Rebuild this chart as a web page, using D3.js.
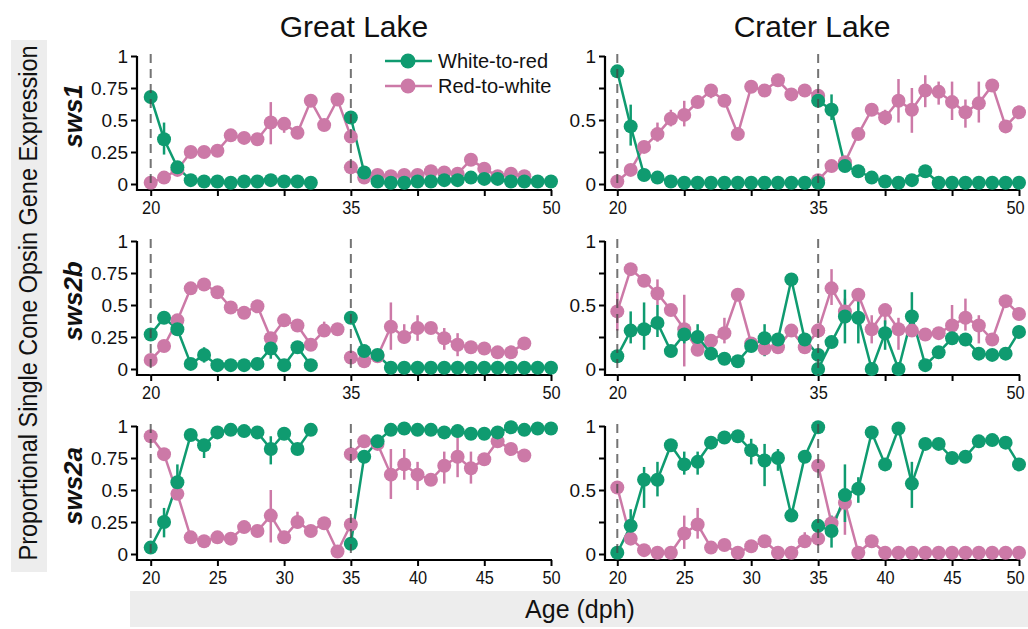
<!DOCTYPE html>
<html>
<head>
<meta charset="utf-8">
<script src="https://cdn.jsdelivr.net/npm/d3@7"></script>
<style>
body { margin: 0; background: #fff; }
text { font-family: "Liberation Sans", Arial, Helvetica, sans-serif; }
</style>
</head>
<body>
<svg id="chart" width="1028" height="629"></svg>
<script>
// days of the two transfer experiments (20->35 and 35->50)
var DAYS_A = [20,21,22,23,24,25,26,27,28,29,30,31,32,33,34,35];
var DAYS_B = [35,36,37,38,39,40,41,42,43,44,45,46,47,48,49,50];

var LAKES = ["Great Lake", "Crater Lake"];
var GENES = ["sws1", "sws2b", "sws2a"];
var SERIES = ["White-to-red", "Red-to-white"];
var X_TICKS = [20,25,30,35,40,45,50];
var Y_TICKS = [0,0.25,0.5,0.75,1];

// Great Lake, sws1
var GL_SWS1_W2R_A = [0.68,0.35,0.13,0.03,0.02,0.02,0.01,0.02,0.02,0.03,0.02,0.02,0.01,null,null,null];
var GL_SWS1_W2R_B = [0.52,0.09,0.02,0.01,0.01,0.02,0.02,0.03,0.03,0.05,0.04,0.04,0.02,0.02,0.02,0.02];
var GL_SWS1_R2W_A = [0.01,0.05,0.11,0.25,0.25,0.26,0.38,0.36,0.35,0.48,0.47,0.40,0.65,0.46,0.66,0.37];
var GL_SWS1_R2W_B = [0.13,0.05,0.07,0.06,0.07,0.07,0.10,0.09,0.08,0.19,0.12,0.06,0.08,0.06,null,null];
var GL_SWS1_W2R_ERR = [[21,0.23,0.48]];
var GL_SWS1_R2W_ERR = [[26,0.33,0.43],[29,0.31,0.64],[30,0.40,0.52]];

// Crater Lake, sws1
var CL_SWS1_W2R_A = [0.88,0.45,0.07,0.05,0.02,0.01,0.01,0.01,0.01,0.01,0.01,0.01,0.01,0.01,0.01,0.01];
var CL_SWS1_W2R_B = [0.65,0.58,0.14,0.10,0.05,0.02,0.01,0.03,0.10,0.01,0.01,0.01,0.01,0.01,0.01,0.01];
var CL_SWS1_R2W_A = [0.02,0.11,0.29,0.39,0.51,0.54,0.64,0.73,0.65,0.39,0.76,0.73,0.81,0.70,0.73,0.69];
var CL_SWS1_R2W_B = [0.03,0.14,0.17,0.39,0.58,0.52,0.65,0.58,0.73,0.72,0.64,0.56,0.63,0.77,0.45,0.56];
var CL_SWS1_W2R_ERR = [[21,0.30,0.62],[36,0.50,0.70]];
var CL_SWS1_R2W_ERR = [[23,0.33,0.48],[24,0.45,0.58],[25,0.45,0.65],[27,0.67,0.78],[40,0.46,0.58],
  [41,0.48,0.82],[42,0.40,0.75],[43,0.60,0.85],[44,0.62,0.80],[45,0.50,0.80],[46,0.44,0.66],[47,0.48,0.80]];

// Great Lake, sws2b
var GL_SWS2B_W2R_A = [0.27,0.40,0.31,0.04,0.11,0.03,0.03,0.03,0.04,0.16,0.03,0.17,0.03,null,null,null];
var GL_SWS2B_W2R_B = [0.40,0.14,0.11,0.01,0.01,0.01,0.01,0.01,0.01,0.01,0.01,0.01,0.01,0.01,0.01,0.01];
var GL_SWS2B_R2W_A = [0.07,0.18,0.38,0.63,0.66,0.60,0.48,0.44,0.49,0.24,0.38,0.34,0.19,0.30,0.31,null];
var GL_SWS2B_R2W_B = [0.09,0.06,0.10,0.33,0.25,0.32,0.32,0.24,0.19,0.17,0.16,0.13,0.13,0.20,null,null];
var GL_SWS2B_W2R_ERR = [[24,0.05,0.17],[29,0.08,0.22]];
var GL_SWS2B_R2W_ERR = [[38,0.15,0.52],[39,0.20,0.35],[40,0.22,0.42],[42,0.15,0.32],[43,0.10,0.28],[33,0.25,0.37]];

// Crater Lake, sws2b
var CL_SWS2B_W2R_A = [0.10,0.30,0.31,0.36,0.14,0.27,0.25,0.12,0.08,0.06,0.18,0.24,0.23,0.70,0.23,0.11];
var CL_SWS2B_W2R_B = [0.00,0.21,0.41,0.40,0.00,0.28,0.00,0.41,0.03,0.13,0.24,0.23,0.12,0.11,0.12,0.29];
var CL_SWS2B_R2W_A = [0.45,0.78,0.69,0.59,0.46,0.31,0.15,0.22,0.28,0.58,0.20,0.16,0.17,0.30,0.17,0.30];
var CL_SWS2B_R2W_B = [0.30,0.63,0.45,0.58,0.31,0.46,0.31,0.30,0.27,0.28,0.34,0.40,0.34,0.23,0.53,0.43];
var CL_SWS2B_W2R_ERR = [[21,0.20,0.45],[22,0.15,0.52],[23,0.25,0.50],[25,0.20,0.35],[26,0.18,0.35],[31,0.10,0.35],
  [37,0.20,0.62],[38,0.20,0.55],[40,0.15,0.38],[42,0.25,0.60]];
var CL_SWS2B_R2W_ERR = [[20,0.30,0.60],[23,0.50,0.70],[25,0.02,0.58],[28,0.20,0.40],[36,0.50,0.78],[37,0.35,0.55],
  [39,0.20,0.42],[40,0.35,0.50],[41,0.15,0.40],[45,0.20,0.50],[46,0.30,0.55],[47,0.20,0.42]];

// Great Lake, sws2a
var GL_SWS2A_W2R_A = [0.05,0.25,0.56,0.93,0.85,0.95,0.97,0.96,0.95,0.82,0.94,0.82,0.97,null,null,null];
var GL_SWS2A_W2R_B = [0.08,0.76,0.88,0.97,0.98,0.97,0.97,0.95,0.96,0.94,0.94,0.95,0.99,0.97,0.98,0.98];
var GL_SWS2A_R2W_A = [0.92,0.78,0.47,0.13,0.10,0.13,0.12,0.21,0.18,0.30,0.13,0.25,0.18,0.24,0.02,0.23];
var GL_SWS2A_R2W_B = [0.78,0.88,0.86,0.62,0.70,0.62,0.58,0.69,0.76,0.67,0.74,0.88,0.82,0.77,null,null];
var GL_SWS2A_W2R_ERR = [[21,0.13,0.36],[22,0.44,0.70],[24,0.75,0.90],[29,0.70,0.92]];
var GL_SWS2A_R2W_ERR = [[29,0.09,0.50],[31,0.20,0.33],[38,0.43,0.82],[39,0.58,0.82],[40,0.50,0.72],
  [42,0.55,0.80],[43,0.60,1.00],[44,0.55,0.80]];

// Crater Lake, sws2a
var CL_SWS2A_W2R_A = [0.01,0.22,0.58,0.58,0.85,0.70,0.72,0.87,0.91,0.92,0.81,0.73,0.75,0.30,0.76,0.99];
var CL_SWS2A_W2R_B = [0.22,0.18,0.46,0.51,0.95,0.70,0.98,0.55,0.86,0.86,0.75,0.76,0.88,0.89,0.87,0.70];
var CL_SWS2A_R2W_A = [0.52,0.12,0.03,0.01,0.01,0.16,0.23,0.05,0.07,0.01,0.06,0.10,0.01,0.01,0.10,0.12];
var CL_SWS2A_R2W_B = [0.69,0.24,0.40,0.01,0.10,0.01,0.01,0.01,0.01,0.01,0.01,0.01,0.01,0.01,0.01,0.01];
var CL_SWS2A_W2R_ERR = [[21,0.15,0.35],[22,0.36,0.68],[23,0.45,0.72],[25,0.62,0.80],[26,0.62,0.80],[30,0.70,0.90],
  [31,0.53,0.86],[32,0.65,0.82],[36,0.05,0.30],[37,0.25,0.70],[38,0.40,0.60],[42,0.36,0.72]];
var CL_SWS2A_R2W_ERR = [[25,0.04,0.30],[26,0.12,0.36],[34,0.05,0.17],[37,0.15,0.45]];

var GREEN = "#0f9b70";
var PINK = "#cc79a7";

var panels = [
  {row:0, col:0, w2r:[GL_SWS1_W2R_A, GL_SWS1_W2R_B], r2w:[GL_SWS1_R2W_A, GL_SWS1_R2W_B], w2rErr:GL_SWS1_W2R_ERR, r2wErr:GL_SWS1_R2W_ERR},
  {row:0, col:1, w2r:[CL_SWS1_W2R_A, CL_SWS1_W2R_B], r2w:[CL_SWS1_R2W_A, CL_SWS1_R2W_B], w2rErr:CL_SWS1_W2R_ERR, r2wErr:CL_SWS1_R2W_ERR},
  {row:1, col:0, w2r:[GL_SWS2B_W2R_A, GL_SWS2B_W2R_B], r2w:[GL_SWS2B_R2W_A, GL_SWS2B_R2W_B], w2rErr:GL_SWS2B_W2R_ERR, r2wErr:GL_SWS2B_R2W_ERR},
  {row:1, col:1, w2r:[CL_SWS2B_W2R_A, CL_SWS2B_W2R_B], r2w:[CL_SWS2B_R2W_A, CL_SWS2B_R2W_B], w2rErr:CL_SWS2B_W2R_ERR, r2wErr:CL_SWS2B_R2W_ERR},
  {row:2, col:0, w2r:[GL_SWS2A_W2R_A, GL_SWS2A_W2R_B], r2w:[GL_SWS2A_R2W_A, GL_SWS2A_R2W_B], w2rErr:GL_SWS2A_W2R_ERR, r2wErr:GL_SWS2A_R2W_ERR},
  {row:2, col:1, w2r:[CL_SWS2A_W2R_A, CL_SWS2A_W2R_B], r2w:[CL_SWS2A_R2W_A, CL_SWS2A_R2W_B], w2rErr:CL_SWS2A_W2R_ERR, r2wErr:CL_SWS2A_R2W_ERR}
];

// layout
var colX = [{axis:137, x0:150.7, x1:551}, {axis:605, x0:617.3, x1:1019}];
var rowTop = [56, 241, 426];
var PH = 128;
var R = 7;

var svg = d3.select("#chart");

// grey label boxes
svg.append("rect").attr("x", 11).attr("y", 40).attr("width", 36).attr("height", 532).attr("fill", "#ededed");
svg.append("text")
    .attr("transform", "translate(37,303) rotate(-90)")
    .attr("text-anchor", "middle")
    .attr("textLength", 515).attr("lengthAdjust", "spacingAndGlyphs")
    .style("font-size", "25px").attr("fill", "#111")
    .text("Proportional Single Cone Opsin Gene Expression");
svg.append("rect").attr("x", 130).attr("y", 591).attr("width", 898).attr("height", 36).attr("fill", "#ededed");
svg.append("text")
    .attr("x", 580).attr("y", 618)
    .attr("text-anchor", "middle")
    .style("font-size", "25px").attr("fill", "#111")
    .text("Age (dph)");

// lake titles
var titleX = [354, 812];
LAKES.forEach(function(t, i) {
    svg.append("text").attr("x", titleX[i]).attr("y", 37)
	.attr("text-anchor", "middle").style("font-size", "30px").attr("fill", "#111")
	.text(t);
});

// gene labels
GENES.forEach(function(g, i) {
    svg.append("text")
	.attr("transform", "translate(82," + (rowTop[i] + PH/2 - 4) + ") rotate(-90)")
	.attr("text-anchor", "middle")
	.style("font-size", "26px").style("font-weight", "bold").style("font-style", "italic")
	.attr("fill", "#111")
	.text(g);
});

function segData(days, vals) {
    return days.map(function(d, i) { return {day: d, v: vals[i]}; })
	.filter(function(p) { return p.v != null; });
}

panels.forEach(function(p) {
    var c = colX[p.col];
    var top = rowTop[p.row];
    var x = d3.scaleLinear().domain([20, 50]).range([c.x0, c.x1]);
    var y = d3.scaleLinear().domain([0, 1]).range([top + PH, top]);
    var bottom = y(0) + 6;
    var g = svg.append("g");

    // axes
    var yAxis = d3.axisLeft(y).tickValues(Y_TICKS).tickSize(6).tickPadding(3)
	.tickFormat(function(d) {
	    if (p.col == 1 && (d == 0.25 || d == 0.75)) return "";
	    return d3.format("")(d);
	});
    var ya = g.append("g").attr("transform", "translate(" + c.axis + ",0)").call(yAxis);
    var xAxis = d3.axisBottom(x).tickValues(X_TICKS).tickSize(6).tickPadding(5)
	.tickFormat(function(d) {
	    if (p.row < 2 && d != 20 && d != 35 && d != 50) return "";
	    return d;
	});
    var xa = g.append("g").attr("transform", "translate(0," + bottom + ")").call(xAxis);
    [ya, xa].forEach(function(a) {
	a.select(".domain").remove();
	a.selectAll(".tick line").attr("stroke", "#000").attr("stroke-width", 2);
	a.selectAll(".tick text").style("font-size", "19px").attr("fill", "#111");
    });
    // x tick labels are set a little narrow, as in the source figure
    xa.selectAll(".tick text").each(function(d) {
	var w = this.getComputedTextLength();
	if (w > 0) d3.select(this).attr("textLength", w * 0.86).attr("lengthAdjust", "spacingAndGlyphs");
	// keep the last label of the right column inside the page
	if (p.col == 1 && d == 50) d3.select(this).attr("dx", -4);
    });
    g.append("path")
	.attr("d", "M" + c.axis + "," + y(1) + "V" + bottom + "H" + (x(50) + 1))
	.attr("fill", "none").attr("stroke", "#000").attr("stroke-width", 2.2);

    var series = [
	{segs: p.r2w, err: p.r2wErr, color: PINK},
	{segs: p.w2r, err: p.w2rErr, color: GREEN}
    ];

    // error bars
    series.forEach(function(s) {
	g.selectAll(null).data(s.err).enter().append("line")
	    .attr("x1", function(d) { return x(d[0]); })
	    .attr("x2", function(d) { return x(d[0]); })
	    .attr("y1", function(d) { return y(d[1]); })
	    .attr("y2", function(d) { return y(d[2]); })
	    .attr("stroke", s.color).attr("stroke-width", 2.5);
    });
    // lines
    var line = d3.line().x(function(d) { return x(d.day); }).y(function(d) { return y(d.v); });
    series.forEach(function(s) {
	[segData(DAYS_A, s.segs[0]), segData(DAYS_B, s.segs[1])].forEach(function(seg) {
	    g.append("path").datum(seg).attr("d", line)
		.attr("fill", "none").attr("stroke", s.color).attr("stroke-width", 2.5);
	});
    });
    // points
    series.forEach(function(s) {
	var pts = segData(DAYS_A, s.segs[0]).concat(segData(DAYS_B, s.segs[1]));
	g.selectAll(null).data(pts).enter().append("circle")
	    .attr("cx", function(d) { return x(d.day); })
	    .attr("cy", function(d) { return y(d.v); })
	    .attr("r", R)
	    .attr("fill", s.color);
    });
    // transfer days
    g.selectAll(null).data([20, 35]).enter().append("line")
	.attr("x1", function(d) { return x(d); })
	.attr("x2", function(d) { return x(d); })
	.attr("y1", y(1) - 2).attr("y2", bottom)
	.attr("stroke", "rgba(70,70,70,0.75)").attr("stroke-width", 2)
	.attr("stroke-dasharray", "9,6");

    // legend in first panel
    if (p.row == 0 && p.col == 0) {
	var leg = [{label: SERIES[0], color: GREEN, y: 61}, {label: SERIES[1], color: PINK, y: 86}];
	leg.forEach(function(l) {
	    g.append("line").attr("x1", 385).attr("x2", 432).attr("y1", l.y).attr("y2", l.y)
		.attr("stroke", l.color).attr("stroke-width", 2.5);
	    g.append("circle").attr("cx", 408).attr("cy", l.y).attr("r", 7.5).attr("fill", l.color);
	    g.append("text").attr("x", 438).attr("y", l.y + 7)
		.style("font-size", "20px").attr("fill", "#111").text(l.label);
	});
    }
});
</script>
</body>
</html>
